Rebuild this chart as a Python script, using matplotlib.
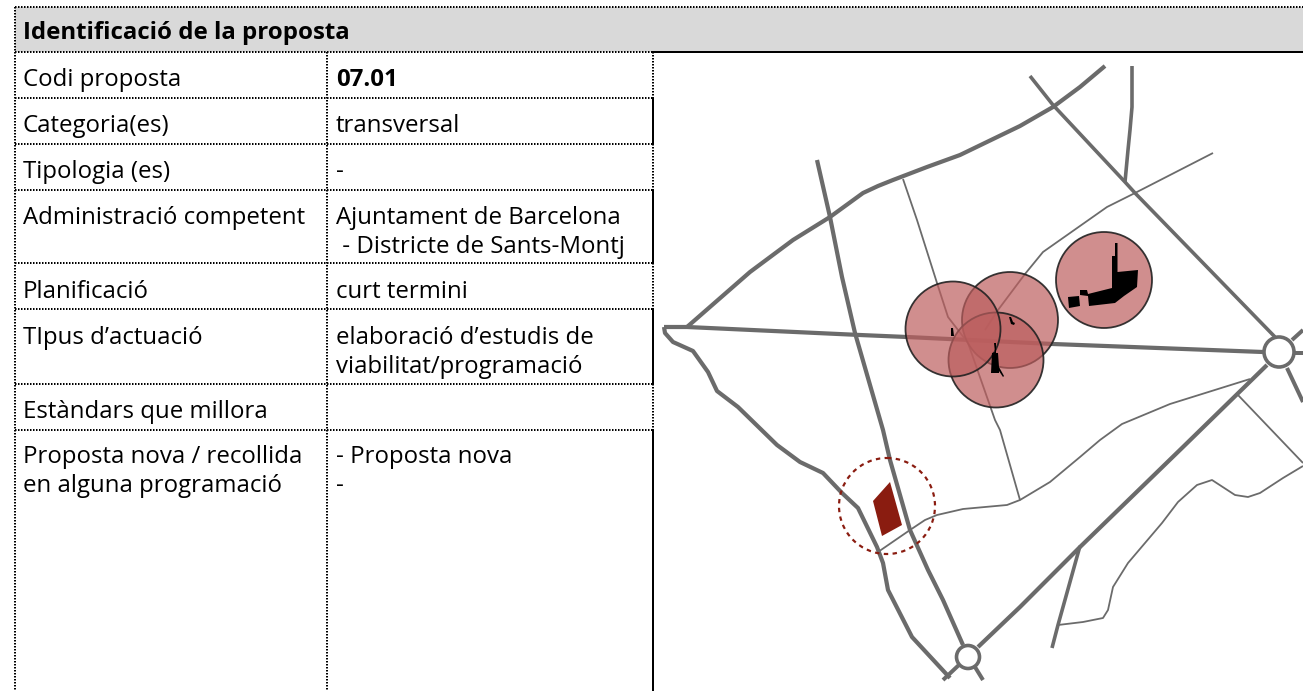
#!/usr/bin/env python3
"""Fitxa de proposta: taula d'identificacio i mapa esquematic."""

import matplotlib
matplotlib.use("Agg")
import matplotlib.pyplot as plt
from matplotlib.patches import Circle, Polygon, Rectangle

plt.rcParams["font.family"] = ["Open Sans", "DejaVu Sans"]

WIDTH, HEIGHT = 1303, 691
PX = 72 / 100  # points per pixel at dpi=100

TITLE = "Identificació de la proposta"
LABELS = [
    "Codi proposta",
    "Categoria(es)",
    "Tipologia (es)",
    "Administració competent",
    "Planificació",
    "TIpus d’actuació",
    "Estàndars que millora",
    "Proposta nova / recollida\nen alguna programació",
]
VALUES = [
    "07.01",
    "transversal",
    "-",
    "Ajuntament de Barcelona\n - Districte de Sants-Montj",
    "curt termini",
    "elaboració d’estudis de\nviabilitat/programació",
    "",
    "- Proposta nova\n-",
]
BASELINES = [86, 132, 178, 224, 298, 344, 418, 463]
ROW_LINES = [52, 98, 144, 190, 263, 309, 384, 430, 691]

# map geometry in pixels
ROAD_A = [(687, 327), (750, 272), (793, 240), (830, 217), (863, 193), (878, 186), (893, 180),
          (927, 167), (960, 155), (1020, 126), (1053, 107), (1080, 87), (1105, 66)]
ROAD_B = [(817, 160), (830, 217), (842, 277), (855, 333), (883, 430), (890, 460), (910, 530),
          (928, 570), (943, 600), (963, 645)]
ROAD_C = [(664, 327), (687, 327), (860, 335), (907, 337), (1053, 344), (1263, 352)]
ROAD_D = [(664, 327), (665, 333), (673, 342), (693, 351), (708, 372), (717, 391), (738, 407),
          (777, 445), (800, 462), (823, 473), (842, 493), (858, 508), (877, 547), (883, 563),
          (888, 590), (912, 637), (950, 678)]
ROAD_E = [(978, 647), (1020, 607), (1050, 577), (1080, 547), (1183, 447), (1267, 365)]
ROAD_F = [(1030, 76), (1053, 105), (1125, 182), (1135, 193), (1275, 337)]
ROAD_G = [(1132, 66), (1132, 107), (1130, 130), (1128, 150), (1125, 182)]
ROAD_M = [(1080, 546), (1058, 625), (1052, 648)]
STUBS = [
    [(961, 663), (943, 680)],
    [(975, 667), (983, 680)],
    [(1292, 340), (1303, 330)],
    [(1295, 353), (1303, 353)],
    [(1287, 368), (1303, 402)],
]
THIN_H = [(1213, 153), (1135, 193), (1107, 207), (1043, 252), (1025, 274), (998, 310), (985, 330)]
THIN_I = [(903, 179), (917, 220), (937, 283), (948, 317), (968, 343), (995, 420), (1000, 430),
          (1020, 500), (1007, 505), (963, 509), (937, 515), (925, 520), (910, 530), (878, 552)]
THIN_J = [(1250, 379), (1170, 404), (1122, 424), (1100, 440), (1080, 457), (1050, 482), (1020, 500)]
THIN_K = [(1238, 395), (1303, 463)]
THIN_L = [(1303, 466), (1283, 478), (1260, 493), (1248, 497), (1235, 495), (1212, 480), (1197, 485),
          (1178, 502), (1162, 523), (1128, 563), (1113, 587), (1108, 610), (1103, 618), (1083, 622),
          (1058, 625)]

ROUNDABOUTS = [(968, 657, 11.5), (1279, 352, 15)]
# drawn in this order, later ones sit on top
BUFFERS = [(1010, 320, 48), (996, 360, 47.5), (953, 329, 47.5), (1104, 280, 48)]
BLOCKS = [
    [(1115, 243), (1117.5, 243), (1117.5, 272), (1138, 270), (1137, 287), (1124, 296), (1115, 303),
     (1089, 306), (1088, 296), (1080, 295), (1080, 290), (1087, 290), (1088, 294), (1112, 288),
     (1112, 256), (1115, 256)],
    [(1068, 297), (1079, 296), (1080, 306), (1069, 308)],
    [(994, 343), (996, 343), (996, 353), (998, 353), (999, 367), (1004, 376), (1003, 377),
     (999, 371), (999, 373), (991, 373), (992, 353), (995, 352)],
    [(951, 328), (953, 328), (954, 336), (951, 336)],
    [(1009, 317), (1011, 317), (1013, 322), (1015, 323), (1014, 325), (1011, 324)],
]
SITE = [(890, 482), (902, 525), (882, 536), (873, 501)]
SITE_RING = (887, 506, 48)

ROAD_COLOR = "#6b6b6b"
RED = "#8a1c10"
FONT_SIZE = 17.25


def road(ax, pts, width):
    xs, ys = zip(*pts)
    ax.plot(xs, ys, color=ROAD_COLOR, lw=width * PX, solid_joinstyle="round",
            solid_capstyle="butt", zorder=2)


def dotted(ax, xs, ys):
    ax.plot(xs, ys, color="black", lw=2 * PX, ls=(0, (0.75, 0.75)), zorder=5)


def draw_table(ax):
    ax.add_patch(Rectangle((15, 7), WIDTH - 15, 45, fc="#d9d9d9", ec="none", zorder=1))
    dotted(ax, [15, WIDTH], [7, 7])
    dotted(ax, [15, 653], [52, 52])
    ax.plot([652, WIDTH], [52, 52], color="black", lw=2 * PX, zorder=5)
    dotted(ax, [15, 15], [7, HEIGHT])
    dotted(ax, [327, 327], [52, HEIGHT])
    for y in ROW_LINES[1:-1]:
        dotted(ax, [15, 653], [y, y])
    # right edge of the table alternates dotted / solid per row
    for i in range(len(ROW_LINES) - 1):
        y0, y1 = ROW_LINES[i], ROW_LINES[i + 1]
        if i % 2:
            ax.plot([653, 653], [y0, y1], color="black", lw=2 * PX, zorder=5)
        else:
            dotted(ax, [653, 653], [y0, y1])

    ax.text(23, 39, TITLE, fontsize=FONT_SIZE, fontweight="bold", color="black", va="baseline")
    for i, (label, value, y) in enumerate(zip(LABELS, VALUES, BASELINES)):
        for k, line in enumerate(label.split("\n")):
            ax.text(23, y + k * 29, line, fontsize=FONT_SIZE, color="black", va="baseline")
        for k, line in enumerate(value.split("\n")):
            ax.text(336, y + k * 29, line, fontsize=FONT_SIZE, color="black", va="baseline",
                    fontweight="bold" if i == 0 else "normal")


def draw_map(ax):
    for pts in [ROAD_A, ROAD_B, ROAD_C, ROAD_D, ROAD_E]:
        road(ax, pts, 4.2)
    for pts in [ROAD_F, ROAD_G, ROAD_M]:
        road(ax, pts, 3.6)
    for pts in STUBS:
        road(ax, pts, 4)
    for pts in [THIN_H, THIN_I, THIN_J, THIN_K, THIN_L]:
        road(ax, pts, 1.8)

    for x, y, r in ROUNDABOUTS:
        ax.add_patch(Circle((x, y), r, fc="white", ec=ROAD_COLOR, lw=3.6 * PX, zorder=3))

    z = 4
    for x, y, r in BUFFERS:
        ax.add_patch(Circle((x, y), r, fc=(188 / 255, 94 / 255, 94 / 255, 0.7),
                            ec=(0.13, 0.13, 0.13, 0.9), lw=1.8 * PX, zorder=z))
        z += 0.1
    for pts in BLOCKS:
        ax.add_patch(Polygon(pts, closed=True, fc="black", ec="none", zorder=5))

    ax.add_patch(Polygon(SITE, closed=True, fc=RED, ec="none", zorder=5))
    x, y, r = SITE_RING
    ax.add_patch(Circle((x, y), r, fc="none", ec=RED, lw=2.2 * PX, ls=(0, (2.0, 2.0)), zorder=5))


def main():
    fig = plt.figure(figsize=(WIDTH / 100, HEIGHT / 100), dpi=100, facecolor="white")
    ax = fig.add_axes([0, 0, 1, 1])
    ax.set_xlim(0, WIDTH)
    ax.set_ylim(HEIGHT, 0)
    ax.axis("off")
    draw_table(ax)
    draw_map(ax)
    fig.savefig("out.png", dpi=100, facecolor="white")
    plt.close(fig)


if __name__ == "__main__":
    main()
